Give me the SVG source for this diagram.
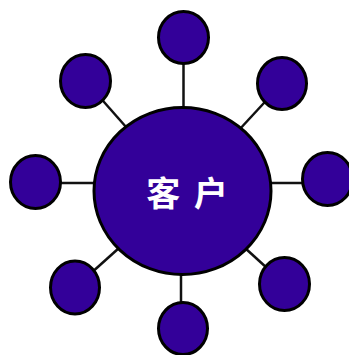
<svg xmlns="http://www.w3.org/2000/svg" width="349" height="355" viewBox="0 0 349 355">
<style>
.n{fill:#330099;stroke:#000;stroke-width:3}
.c line{stroke:#111;stroke-width:2.5}
.t{fill:#fff;font-family:"Noto Sans CJK SC","Noto Sans CJK JP",sans-serif;font-size:34px;font-weight:bold;text-anchor:middle;word-spacing:6px}
</style>
<rect width="349" height="355" fill="#fff"/>
<g id="connectors" class="c">
<line x1="183.5" y1="64" x2="183.5" y2="108"/>
<line x1="85.5" y1="81" x2="182.5" y2="191"/>
<line x1="282" y1="83.5" x2="182.5" y2="191"/>
<line x1="35.5" y1="183" x2="100" y2="183"/>
<line x1="265" y1="183" x2="327.5" y2="183"/>
<line x1="75" y1="287.5" x2="182.5" y2="191"/>
<line x1="284.5" y1="284" x2="182.5" y2="191"/>
<line x1="181" y1="270" x2="181" y2="303"/>
</g>
<g id="node-top"><ellipse class="n" cx="183.5" cy="37.5" rx="25" ry="26"/></g>
<g id="node-top-left"><ellipse class="n" cx="85.5" cy="81" rx="25" ry="26.5"/></g>
<g id="node-top-right"><ellipse class="n" cx="282" cy="83.5" rx="24.5" ry="26"/></g>
<g id="node-left"><ellipse class="n" cx="35.5" cy="182" rx="25" ry="26.5"/></g>
<g id="node-right"><ellipse class="n" cx="327.5" cy="179" rx="25" ry="26.5"/></g>
<g id="node-bottom-left"><ellipse class="n" cx="75" cy="287.5" rx="24.5" ry="26.5"/></g>
<g id="node-bottom-right"><ellipse class="n" cx="284.5" cy="284" rx="25" ry="26.5"/></g>
<g id="node-bottom"><ellipse class="n" cx="183" cy="328.5" rx="24.5" ry="26"/></g>
<g id="node-center">
<ellipse class="n" cx="182.5" cy="191" rx="88.5" ry="83.5"/>
<text class="t" x="187" y="206">客 户</text>
</g>
</svg>
